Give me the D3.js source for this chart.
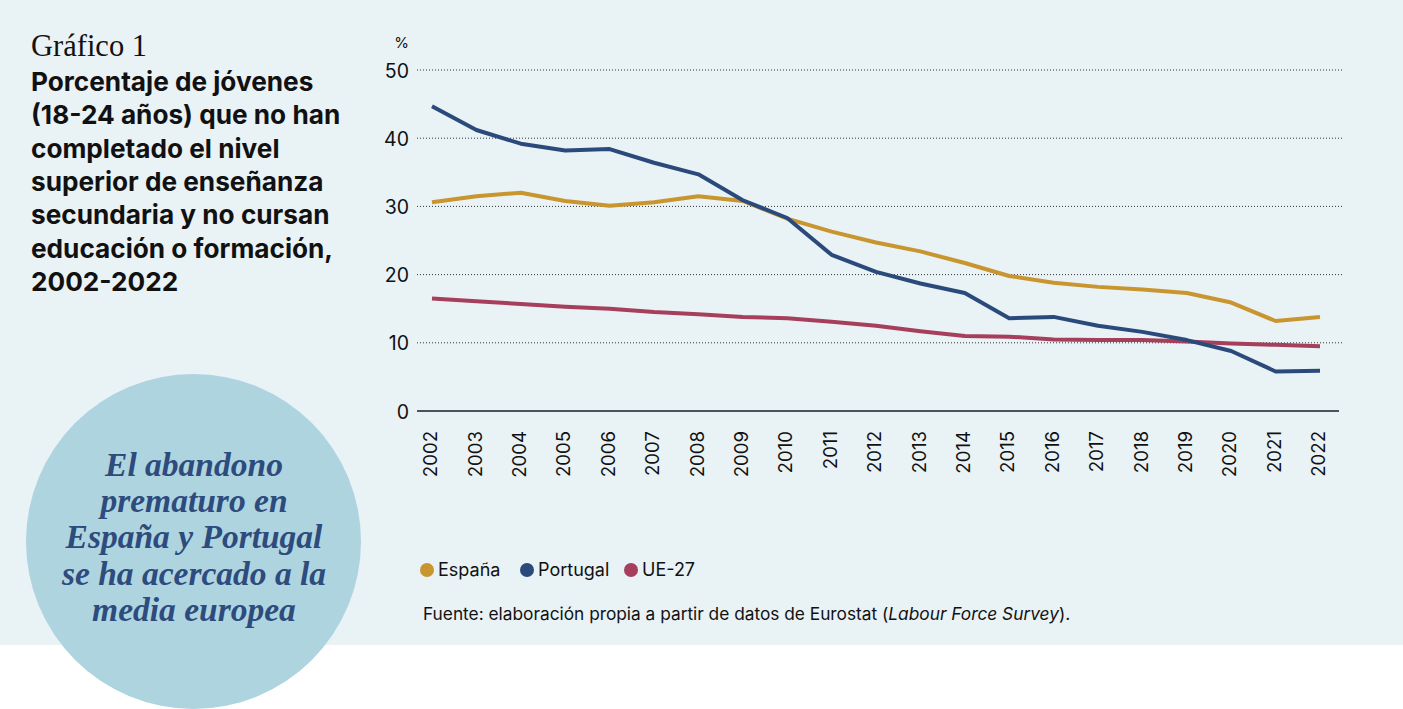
<!DOCTYPE html>
<html>
<head>
<meta charset="utf-8">
<script src="https://cdn.jsdelivr.net/npm/d3@7"></script>
<style>
  html, body { margin: 0; padding: 0; background: #fff; }
  svg { display: block; }
</style>
</head>
<body>
<div id="chart"></div>
<script>
const years = d3.range(2002, 2023)
const espana = [30.6, 31.5, 32.0, 30.8, 30.1, 30.6, 31.5, 30.8, 28.2, 26.3, 24.7, 23.4, 21.7, 19.8, 18.8, 18.2, 17.8, 17.3, 15.9, 13.2, 13.8]
const portugal = [44.7, 41.2, 39.2, 38.2, 38.4, 36.4, 34.7, 30.9, 28.3, 22.9, 20.4, 18.7, 17.3, 13.6, 13.8, 12.5, 11.6, 10.4, 8.8, 5.8, 5.9]
const ue27 = [16.5, 16.1, 15.7, 15.3, 15.0, 14.5, 14.2, 13.8, 13.6, 13.1, 12.5, 11.7, 11.0, 10.9, 10.5, 10.4, 10.4, 10.2, 9.9, 9.7, 9.5]
const seriesNames = ['España', 'Portugal', 'UE-27']
const seriesColors = ['#c9952e', '#2b4a7c', '#a63f5b']
const yTicks = [0, 10, 20, 30, 40, 50]
const titleLines = [
	'Porcentaje de jóvenes',
	'(18-24 años) que no han',
	'completado el nivel',
	'superior de enseñanza',
	'secundaria y no cursan',
	'educación o formación,',
	'2002-2022'
]
const calloutLines = ['El abandono', 'prematuro en', 'España y Portugal', 'se ha acercado a la', 'media europea']

const W = 1403
const H = 709
const sans = 'Inter, "Noto Sans", sans-serif'
const serif = '"Liberation Serif", "DejaVu Serif", serif'

const svg = d3.select('#chart')
	.append('svg')
	.attr('width', W)
	.attr('height', H)

// background panels
svg.append('rect').attr('width', W).attr('height', 645).attr('fill', '#e9f2f5')
svg.append('rect').attr('y', 645).attr('width', W).attr('height', H - 645).attr('fill', '#fff')

// left column: heading
svg.append('text')
	.attr('x', 31).attr('y', 56)
	.style('font-family', serif)
	.style('font-size', '30.5px')
	.attr('fill', '#111')
	.text('Gráfico 1')

svg.append('g')
	.selectAll('text')
	.data(titleLines)
	.join('text')
	.attr('x', 31)
	.attr('y', (d, i) => 91 + i * 33.3)
	.style('font-family', sans)
	.style('font-weight', 700)
	.style('font-size', '26.2px')
	.attr('fill', '#111')
	.text(d => d)

// callout circle
svg.append('circle')
	.attr('cx', 193.5).attr('cy', 541.5).attr('r', 167.5)
	.attr('fill', '#aed4e0')

svg.append('g')
	.selectAll('text')
	.data(calloutLines)
	.join('text')
	.attr('x', 194)
	.attr('y', (d, i) => 476 + i * 36.2)
	.attr('text-anchor', 'middle')
	.style('font-family', serif)
	.style('font-style', 'italic')
	.style('font-weight', 700)
	.style('font-size', '33.5px')
	.attr('fill', '#2d4b7c')
	.text(d => d)

// chart area
const x = d3.scalePoint().domain(years).range([432, 1320])
const y = d3.scaleLinear().domain([0, 50]).range([411, 70])

const plot = svg.append('g')

plot.append('g')
	.selectAll('line')
	.data(yTicks.filter(d => d > 0))
	.join('line')
	.attr('x1', 417).attr('x2', 1342)
	.attr('y1', d => y(d)).attr('y2', d => y(d))
	.attr('stroke', '#333')
	.attr('stroke-width', 1)
	.attr('stroke-dasharray', '1,2')

const yAxis = plot.append('g')
	.attr('transform', 'translate(409,0)')
	.call(d3.axisLeft(y).tickValues(yTicks).tickSize(0).tickPadding(0))
yAxis.select('.domain').remove()
yAxis.selectAll('text')
	.style('font-family', sans)
	.style('font-size', '19.5px')
	.attr('fill', '#111')
	.attr('dy', '0.36em')

svg.append('text')
	.attr('x', 409).attr('y', 48)
	.attr('text-anchor', 'end')
	.style('font-family', sans)
	.style('font-size', '15px')
	.attr('fill', '#111')
	.text('%')

const xAxis = plot.append('g')
	.attr('transform', `translate(0,${y(0)})`)
	.call(d3.axisBottom(x).tickSize(0).tickPadding(0).tickFormat(d3.format('d')))
xAxis.select('.domain').remove()
xAxis.selectAll('text')
	.attr('transform', 'rotate(-90)')
	.attr('text-anchor', 'end')
	.attr('x', -20)
	.attr('y', -2)
	.attr('dy', '0.36em')
	.style('font-family', sans)
	.style('font-size', '18.6px')
	.attr('fill', '#111')

plot.append('line')
	.attr('x1', 417).attr('x2', 1339)
	.attr('y1', y(0)).attr('y2', y(0))
	.attr('stroke', '#4b5459')
	.attr('stroke-width', 2.2)

const line = d3.line()
	.x((d, i) => x(years[i]))
	.y(d => y(d))

plot.append('g')
	.selectAll('path')
	.data([ue27, espana, portugal].map((v, k) => ({ values: v, color: [seriesColors[2], seriesColors[0], seriesColors[1]][k] })))
	.join('path')
	.attr('d', d => line(d.values))
	.attr('fill', 'none')
	.attr('stroke', d => d.color)
	.attr('stroke-width', 4)
	.attr('stroke-linejoin', 'round')

// legend
const legendX = [427, 527, 631]
const legend = svg.append('g')
	.selectAll('g')
	.data(seriesNames)
	.join('g')
	.attr('transform', (d, i) => `translate(${legendX[i]},570)`)
legend.append('circle')
	.attr('r', 7)
	.attr('fill', (d, i) => seriesColors[i])
legend.append('text')
	.attr('x', 11)
	.attr('dy', '0.36em')
	.style('font-family', sans)
	.style('font-size', '18px')
	.attr('fill', '#111')
	.text(d => d)

// source
const src = svg.append('text')
	.attr('x', 423).attr('y', 620)
	.style('font-family', sans)
	.style('font-size', '17.3px')
	.attr('fill', '#111')
src.append('tspan').text('Fuente: elaboración propia a partir de datos de Eurostat (')
src.append('tspan').style('font-style', 'italic').text('Labour Force Survey')
src.append('tspan').text(').')
</script>
</body>
</html>
